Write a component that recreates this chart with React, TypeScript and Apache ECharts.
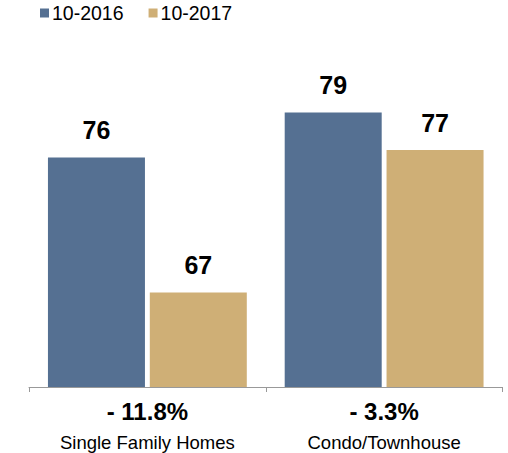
import React, { useEffect, useRef } from "react";
import * as echarts from "echarts";

const categories = ["Single Family Homes", "Condo/Townhouse"];
const pctChange = ["- 11.8%", "- 3.3%"];
const seriesNames = ["10-2016", "10-2017"];
const values2016 = [76, 79];
const values2017 = [67, 76.5];
const colors = ["#557092", "#cfaf76"];

export default function App() {
  const ref = useRef<HTMLDivElement>(null);
  useEffect(() => {
    if (!ref.current) return;
    const chart = echarts.init(ref.current, null, { renderer: "svg" });
    const font = "Liberation Sans, Arial, Helvetica, sans-serif";
    const label = {
      show: true,
      position: "top",
      distance: 15,
      color: "#000",
      fontSize: 25,
      fontWeight: "bold",
      fontFamily: font,
      formatter: (p: any) => String(Math.round(p.value)),
    };
    chart.setOption({
      animation: false,
      textStyle: { fontFamily: font },
      legend: {
        data: seriesNames,
        left: 40,
        top: 3,
        padding: 0,
        icon: "rect",
        itemWidth: 9,
        itemHeight: 9,
        itemGap: 25,
        textStyle: { fontSize: 19.5, color: "#000", fontFamily: font, padding: [0, 0, 0, -2] },
      },
      grid: { left: 29, right: 5.5, top: 97.5, bottom: 66, containLabel: false },
      xAxis: {
        type: "category",
        data: categories,
        axisLine: { show: true, lineStyle: { color: "#999", width: 1 } },
        axisTick: { show: true, length: 5, lineStyle: { color: "#999" } },
        axisLabel: {
          margin: 9,
          interval: 0,
          formatter: (v: string, i: number) => `{pct|${pctChange[i]}}\n{name|${v}}`,
          rich: {
            pct: { fontSize: 24, fontWeight: "bold", color: "#000", lineHeight: 30, fontFamily: font },
            name: { fontSize: 18.5, color: "#000", lineHeight: 32, fontFamily: font },
          },
        },
      },
      yAxis: {
        type: "value",
        min: 60.7,
        max: 80,
        show: false,
        splitLine: { show: false },
      },
      series: [
        {
          name: seriesNames[0],
          type: "bar",
          data: values2016,
          barWidth: 97,
          barGap: "5%",
          itemStyle: { color: colors[0] },
          label,
        },
        {
          name: seriesNames[1],
          type: "bar",
          data: values2017,
          barWidth: 97,
          barGap: "5%",
          itemStyle: { color: colors[1] },
          label,
        },
      ],
    });
    return () => chart.dispose();
  }, []);
  return (
    <div
      ref={ref}
      style={{ position: "absolute", left: 0, top: 0, width: 508, height: 453, background: "#fff" }}
    />
  );
}
